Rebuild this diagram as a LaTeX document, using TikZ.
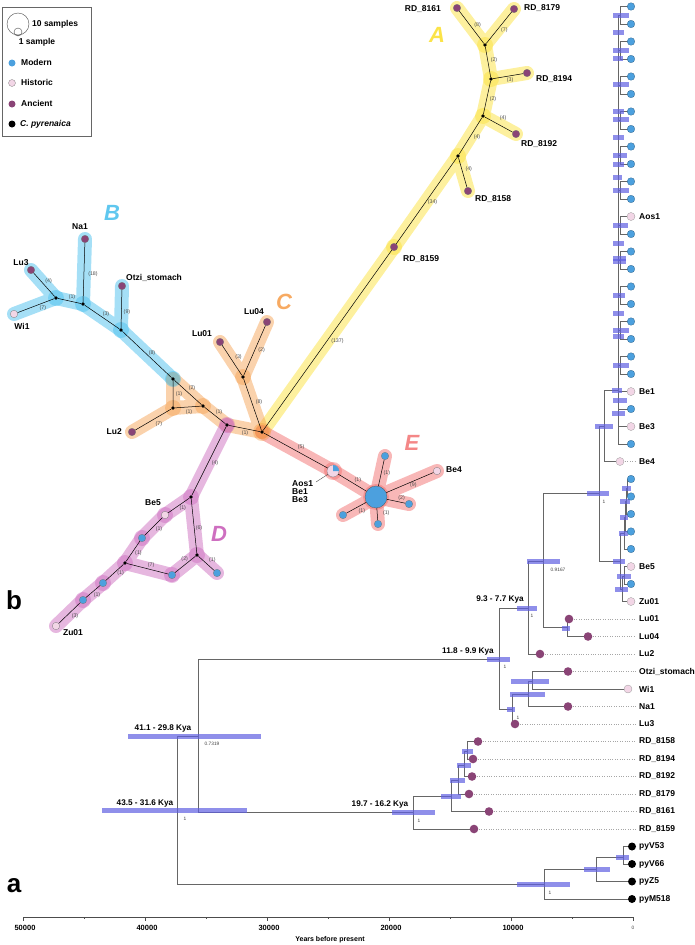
\documentclass[tikz,border=0pt]{standalone}
\usepackage{fontspec}
\setmainfont{Liberation Sans}
\usetikzlibrary{backgrounds}
\definecolor{modern}{RGB}{76,160,222}
\definecolor{historic}{RGB}{242,214,230}
\definecolor{ancient}{RGB}{138,68,118}
\definecolor{grpA}{RGB}{250,222,40}
\definecolor{grpB}{RGB}{55,185,235}
\definecolor{grpC}{RGB}{245,155,70}
\definecolor{grpD}{RGB}{200,95,185}
\definecolor{grpE}{RGB}{240,95,95}
\definecolor{hpdblue}{RGB}{95,95,225}
\tikzset{
hap/.style={circle,inner sep=0pt,minimum size=7.5pt,draw=black!55,line width=.25pt},
anc/.style={hap,fill=ancient},
mod/.style={hap,fill=modern},
his/.style={hap,fill=historic},
jn/.style={circle,inner sep=0pt,minimum size=3.6pt,fill=black},
cnt/.style={font=\fontsize{5.3}{5}\selectfont,text=black!70,inner sep=0pt},
lbl/.style={font=\fontsize{8.5}{8}\selectfont\bfseries,inner sep=0pt},
grp/.style={font=\fontsize{22}{22}\selectfont\bfseries\itshape,inner sep=0pt},
panel/.style={font=\fontsize{26}{26}\selectfont\bfseries,inner sep=0pt},
age/.style={font=\fontsize{8.2}{8}\selectfont\bfseries,inner sep=0pt},
post/.style={font=\fontsize{4.8}{5}\selectfont,text=black!75,inner sep=0pt},
band/.style={line width=14pt,line cap=round,line join=round,opacity=.45},
halo/.style={opacity=.4},
br/.style={draw=black!60,line width=.6pt},
hpd/.style={fill=hpdblue,fill opacity=.7},
lead/.style={draw=black!35,dotted,line width=.4pt},
}
\begin{document}
\begin{tikzpicture}[x=1pt,y=-1pt]
\useasboundingbox (0,0) rectangle (695,945);
% legend
\draw[black!60,line width=.5pt] (2,7) rectangle (91,136);
\draw[black!70,line width=.4pt] (18,24) circle[radius=11] (18,32) circle[radius=4];
\node[lbl,anchor=west] (leg10) at (32,24) {10 samples};
\node[lbl] (leg1) at (37,42) {1 sample};
\node[mod,minimum size=7pt,draw=none] (legm) at (12,63) {};
\node[his,minimum size=7pt] (legh) at (12,83) {};
\node[anc,minimum size=7pt,draw=none] (lega) at (12,104) {};
\node[hap,fill=black,minimum size=7pt,draw=none] (legp) at (12,124) {};
\node[lbl,anchor=west] (legmt) at (21,62) {Modern};
\node[lbl,anchor=west] (leght) at (21,82) {Historic};
\node[lbl,anchor=west] (legat) at (21,103) {Ancient};
\node[lbl,anchor=west] (legpt) at (20,124) {\itshape C. pyrenaica};
% network
\node[anc] (rd8161) at (457,8) {};
\node[anc] (rd8179) at (514,9) {};
\node[anc] (rd8194) at (527,73) {};
\node[anc] (rd8192) at (516,134) {};
\node[anc] (rd8158) at (468,191) {};
\node[anc] (rd8159) at (394,247) {};
\node[jn] (j1) at (485,45) {};
\node[jn] (j2) at (491,79) {};
\node[jn] (j3) at (483,116) {};
\node[jn] (j4) at (458,156) {};
\node[anc] (na1) at (85,239) {};
\node[anc] (lu3) at (31,270) {};
\node[anc] (otzi) at (122,286) {};
\node[his] (wi1) at (14,314) {};
\node[jn] (jB1) at (56,298) {};
\node[jn] (jB2) at (83,304) {};
\node[jn] (jB3) at (121,330) {};
\node[jn] (jB0) at (173,379) {};
\node[anc] (lu04) at (267,322) {};
\node[anc] (lu01) at (220,342) {};
\node[anc] (lu2) at (132,432) {};
\node[jn] (jL1) at (173,408) {};
\node[jn] (jL2) at (203,406) {};
\node[jn] (jc) at (243,377) {};
\node[jn] (jO) at (262,432) {};
\node[jn] (jD) at (227,425) {};
\node[jn] (jD1) at (191,497) {};
\node[jn] (jD2) at (125,563) {};
\node[jn] (jD3) at (197,555) {};
\node[his] (be5) at (165,515) {};
\node[mod] (m1) at (142,538) {};
\node[mod] (m2) at (172,575) {};
\node[mod] (m3) at (217,573) {};
\node[mod] (m4) at (103,583) {};
\node[mod] (m5) at (83,600) {};
\node[his] (zu01) at (56,626) {};
\node[his,minimum size=12pt] (aos1) at (333,471) {};
\node[mod,minimum size=22pt,draw=black!70] (H) at (376,497) {};
\node[mod] (e1) at (385,456) {};
\node[mod] (e2) at (409,504) {};
\node[mod] (e3) at (378,524) {};
\node[mod] (e4) at (343,515) {};
\node[his] (be4) at (437,471) {};
\fill[modern] (aos1.center) -- ++(6,0) arc[start angle=0,end angle=-90,radius=6] -- cycle;
\draw[line width=.5pt]
(j1) -- node[cnt,shift={(6,-2.5)}]{(8)} (rd8161)
(j1) -- node[cnt,shift={(5.5,2)}]{(7)} (rd8179)
(j1) -- node[cnt,shift={(6,-2)}]{(2)} (j2)
(j2) -- node[cnt,shift={(2,4)}]{(3)} (rd8194)
(j2) -- node[cnt,shift={(6,1.5)}]{(2)} (j3)
(j3) -- node[cnt,shift={(4.5,-6)}]{(4)} (rd8192)
(j3) -- node[cnt,shift={(6.5,1)}]{(4)} (j4)
(j4) -- node[cnt,shift={(6,-3.5)}]{(4)} (rd8158)
(j4) -- node[cnt,shift={(6,1.5)}]{(34)} (rd8159)
(rd8159) -- node[cnt,shift={(10,0.5)}]{(137)} (jO)
(jB1) -- node[cnt,shift={(4.5,-4)}]{(4)} (lu3)
(jB1) -- node[cnt,shift={(7,2)}]{(7)} (wi1)
(jB1) -- node[cnt,shift={(2.5,-4)}]{(1)} (jB2)
(jB2) -- node[cnt,shift={(9,1.5)}]{(18)} (na1)
(jB2) -- node[cnt,shift={(4,-3)}]{(3)} (jB3)
(jB3) -- node[cnt,shift={(5.5,3)}]{(9)} (otzi)
(jB3) -- node[cnt,shift={(5,-1.5)}]{(8)} (jB0)
(jB0) -- node[cnt,shift={(6,0.5)}]{(1)} (jL1)
(jB0) -- node[cnt,shift={(4,-4.5)}]{(2)} (jL2)
(jL1) -- node[cnt,shift={(1,5)}]{(1)} (jL2)
(jL1) -- node[cnt,shift={(5.5,5)}]{(7)} (lu2)
(jL2) -- node[cnt,shift={(4,-3.5)}]{(1)} (jD)
(jD) -- node[cnt,shift={(0.5,4.5)}]{(1)} (jO)
(jO) -- node[cnt,shift={(6.5,-2.5)}]{(8)} (jc)
(jc) -- node[cnt,shift={(6.5,-3.5)}]{(3)} (lu01)
(jc) -- node[cnt,shift={(7,-0.5)}]{(2)} (lu04)
(jD) -- node[cnt,shift={(6,2)}]{(4)} (jD1)
(jD1) -- node[cnt,shift={(4,3)}]{(1)} (be5)
(be5) -- node[cnt,shift={(5.5,2.5)}]{(1)} (m1)
(m1) -- node[cnt,shift={(5.5,1.5)}]{(1)} (jD2)
(jD1) -- node[cnt,shift={(5,2)}]{(6)} (jD3)
(jD2) -- node[cnt,shift={(3.5,-4)}]{(7)} (m2)
(m2) -- node[cnt,shift={(-0.5,-5)}]{(2)} (jD3)
(jD3) -- node[cnt,shift={(6,-3)}]{(1)} (m3)
(jD2) -- node[cnt,shift={(6,1)}]{(1)} (m4)
(m4) -- node[cnt,shift={(4,3.5)}]{(1)} (m5)
(m5) -- node[cnt,shift={(5.5,3)}]{(3)} (zu01)
(jO) -- node[cnt,shift={(5.5,-3.5)}]{(5)} (aos1)
(aos1) -- node[cnt,shift={(5.5,-3)}]{(1)} (H)
(H) -- node[cnt,shift={(5.5,0.5)}]{(1)} (e1)
(H) -- node[cnt,shift={(3.5,3)}]{(9)} (be4)
(H) -- node[cnt,shift={(5.5,-3.5)}]{(2)} (e2)
(H) -- node[cnt,shift={(9,-1)}]{(1)} (e3)
(H) -- node[cnt,shift={(5.5,3)}]{(1)} (e4);
\begin{scope}[on background layer]
\draw[band,grpA] (jO.center) -- (rd8159.center) -- (j4.center) -- (j3.center) -- (j2.center) -- (j1.center) -- (rd8161.center)
(j1.center) -- (rd8179.center) (j2.center) -- (rd8194.center) (j3.center) -- (rd8192.center) (j4.center) -- (rd8158.center);
\draw[band,grpB] (wi1.center) -- (jB1.center) -- (lu3.center) (jB1.center) -- (jB2.center) -- (na1.center)
(jB2.center) -- (jB3.center) -- (otzi.center) (jB3.center) -- (jB0.center);
\draw[band,grpC] (jB0.center) -- (jL1.center) -- (lu2.center) (jB0.center) -- (jL2.center) -- (jL1.center)
(jL2.center) -- (jD.center) -- (jO.center) -- (jc.center) -- (lu01.center) (jc.center) -- (lu04.center);
\draw[band,grpD] (jD.center) -- (jD1.center) -- (be5.center) -- (m1.center) -- (jD2.center) -- (m4.center) -- (m5.center) -- (zu01.center)
(jD2.center) -- (m2.center) -- (jD3.center) -- (jD1.center) (jD3.center) -- (m3.center);
\draw[band,grpE] (jO.center) -- (aos1.center) -- (H.center) -- (e1.center) (H.center) -- (be4.center)
(H.center) -- (e2.center) (H.center) -- (e3.center) (H.center) -- (e4.center);
\fill[grpA,halo] (j1.center) circle[radius=8] (j2.center) circle[radius=8] (j3.center) circle[radius=8]
(j4.center) circle[radius=8] (rd8159.center) circle[radius=8];
\fill[grpB,halo] (jB1.center) circle[radius=8] (jB2.center) circle[radius=8] (jB3.center) circle[radius=8] (jB0.center) circle[radius=8];
\fill[grpC,halo] (jc.center) circle[radius=8] (jL1.center) circle[radius=8] (jL2.center) circle[radius=8] (jO.center) circle[radius=9];
\fill[grpD,halo] (jD.center) circle[radius=8] (jD1.center) circle[radius=8] (jD2.center) circle[radius=8] (jD3.center) circle[radius=8]
(be5.center) circle[radius=8] (m1.center) circle[radius=8] (m2.center) circle[radius=8] (m4.center) circle[radius=8] (m5.center) circle[radius=8];
\fill[grpE,halo] (aos1.center) circle[radius=9] (H.center) circle[radius=13];
\end{scope}
\node[lbl,anchor=east] (t8161) at (441,9) {RD\_8161};
\node[lbl,anchor=west] (t8179) at (524,8) {RD\_8179};
\node[lbl,anchor=west] (t8194) at (536,79) {RD\_8194};
\node[lbl,anchor=west] (t8192) at (521,144) {RD\_8192};
\node[lbl,anchor=west] (t8158) at (475,199) {RD\_8158};
\node[lbl,anchor=west] (t8159) at (403,259) {RD\_8159};
\node[lbl] (tna1) at (80,227) {Na1};
\node[lbl] (tlu3) at (21,263) {Lu3};
\node[lbl,anchor=west] (totzi) at (126,278) {Otzi\_stomach};
\node[lbl] (tlu04) at (254,312) {Lu04};
\node[lbl] (tlu01) at (202,334) {Lu01};
\node[lbl,anchor=east] (tlu2) at (122,432) {Lu2};
\node[lbl] (twi1) at (22,326) {Wi1};
\node[lbl] (tbe5) at (153,503) {Be5};
\node[lbl] (tzu01) at (73,633) {Zu01};
\node[lbl,anchor=west] (tbe4) at (446,470) {Be4};
\node[lbl,anchor=north west,align=left] (taos) at (292,480) {Aos1\\Be1\\Be3};
\coordinate (aosL) at (316,482);
\draw[black!70,line width=.4pt] (aosL) -- (aos1);
\node[grp,text=grpA!85] (gA) at (437,35) {A};
\node[grp,text=grpB!80] (gB) at (112,213) {B};
\node[grp,text=grpC!85] (gC) at (284,302) {C};
\node[grp,text=grpD!90] (gD) at (219,534) {D};
\node[grp,text=grpE!75] (gE) at (412,443) {E};
\node[panel] (pb) at (14,600) {b};
\node[panel] (pa) at (14,886) {a};
% tree
\draw[br] (618,15.75) -- (618,444);
\foreach \i in {0,2,...,20}
\draw[br] (631,6.5+17.5*\i) -| (620,24+17.5*\i) -- (631,24+17.5*\i) (618,15.25+17.5*\i) -- (620,15.25+17.5*\i);
\foreach \i in {22,23,24,25}
\draw[br] (618,6.5+17.5*\i) -- (631,6.5+17.5*\i);
\foreach \a/\b/\c/\d in {177/810/198/736,177/810/544/884,198/736/499/659,198/736/413/812,
499/659/528/608,499/659/512/709,528/608/543/561,528/608/540/654,543/561/599/493,543/561/567/627.75,
567/627.75/569/619,567/627.75/588/636.5,512/709/528/694,512/709/515/724,528/694/532/681,528/694/568/706.5,
532/681/568/671.5,532/681/628/689,599/493/604/426,599/493/620/561,604/426/618/390,604/426/620/461.5,
620/561/624/533,620/561/622/589,624/533/625/517,624/533/631/549,625/517/626/501,625/517/631/531.5,
626/501/627/488,626/501/631/514,627/488/631/479,627/488/631/496.5,622/589/624/576,622/589/631/601.5,
624/576/631/566.5,624/576/631/584,413/812/451/796,413/812/474/829,451/796/458/780,451/796/489/811.5,
458/780/464/765,458/780/469/794,464/765/467/751,464/765/472/776.5,467/751/478/741.5,467/751/473/759,
544/884/596/869,544/884/632/899,596/869/623/857,596/869/632/881.5,623/857/632/846.5,623/857/632/864}
\draw[br] (\a,\b) |- (\c,\d);
\foreach \y/\l/\r in {810/102/247,736/128/261,812/392/435,796/441/461,780/450/465,765/457/471,751/462/473,
884/517/570,869/584/610,857/616/629,659/487/510,608/517/537,561/527/560,628/562/570,709/507/515,
694/510/545,681/511/549,493/587/609,426/595/613,390/612/622,561/613/625,533/619/628,517/620/628,
501/620/630,488/622/631,589/615/628,576/617/631,
15/613/629,32/613/624,50/613/629,58/613/623,84/613/629,111/613/624,119/613/629,137/613/624,155/613/627,
164/613/624,177/613/622,190/613/629,225/613/628,243/613/624,258/613/626,261/613/626,295/613/625,
313/613/624,330/613/629,336/613/624,365/613/629,400/613/627,413/612/625}
\fill[hpd] (\l,\y-2.5) rectangle (\r,\y+2.5);
\foreach \x/\i in {569/35,588/36,540/37,568/38,568/40,515/41,478/42,473/43,472/44,469/45,489/46,474/47}
\draw[lead] (\x+5,6.5+17.5*\i) -- (636,6.5+17.5*\i);
\draw[lead] (625,461.5) -- (636,461.5);
\foreach \i in {0,1,...,11,13,14,...,21,23,25,27,28,...,31,33}
\filldraw[fill=modern,draw=modern!60!black,line width=.25pt] (631,6.5+17.5*\i) circle[radius=3.8];
\foreach \x/\i in {631/12,631/22,631/24,620/26,631/32,631/34,628/39}
\filldraw[fill=historic,draw=black!40,line width=.3pt] (\x,6.5+17.5*\i) circle[radius=4];
\foreach \x/\i in {569/35,588/36,540/37,568/38,568/40,515/41,478/42,473/43,472/44,469/45,489/46,474/47}
\fill[ancient] (\x,6.5+17.5*\i) circle[radius=4.3];
\foreach \i in {48,49,50,51}
\fill[black] (632,6.5+17.5*\i) circle[radius=4];
\foreach \i/\t in {12/Aos1,22/Be1,24/Be3,26/Be4,32/Be5,34/Zu01,35/Lu01,36/Lu04,37/Lu2,38/Otzi\_stomach,
39/Wi1,40/Na1,41/Lu3,42/RD\_8158,43/RD\_8194,44/RD\_8192,45/RD\_8179,46/RD\_8161,47/RD\_8159,
48/pyV53,49/pyV66,50/pyZ5,51/pyM518}
\node[lbl,anchor=west] (tip\i) at (639,6.5+17.5*\i) {\t};
\node[age] (k93) at (500,599) {9.3 - 7.7 Kya};
\node[age] (k118) at (468,651) {11.8 - 9.9 Kya};
\node[age] (k411) at (163,728) {41.1 - 29.8 Kya};
\node[age] (k435) at (145,803) {43.5 - 31.6 Kya};
\node[age] (k197) at (380,804) {19.7 - 16.2 Kya};
\foreach \x/\y/\p in {532/616/1,558/570/0.9167,604/502/1,505/667/1,518/718/1,212/744/0.7319,
185/819/1,419/821/1,550/893/1}
\node[post] at (\x,\y) {\p};
% axis
\draw[black!70,line width=.5pt] (23,917) -- (633,917);
\foreach \k/\v in {0/50000,1/40000,2/30000,3/20000,4/10000}{
\draw[black!70,line width=.5pt] (23+122*\k,917) -- ++(0,4) (84+122*\k,917) -- ++(0,2);
\node[font=\fontsize{7.5}{8}\selectfont\bfseries,inner sep=0pt] (ax\k) at (25+122*\k,928) {\v};}
\draw[black!70,line width=.5pt] (633,917) -- ++(0,4);
\node[post] (ax5) at (633,928) {0};
\node[font=\fontsize{7}{8}\selectfont\bfseries,inner sep=0pt] (axt) at (330,940) {Years before present};
\end{tikzpicture}
\end{document}
